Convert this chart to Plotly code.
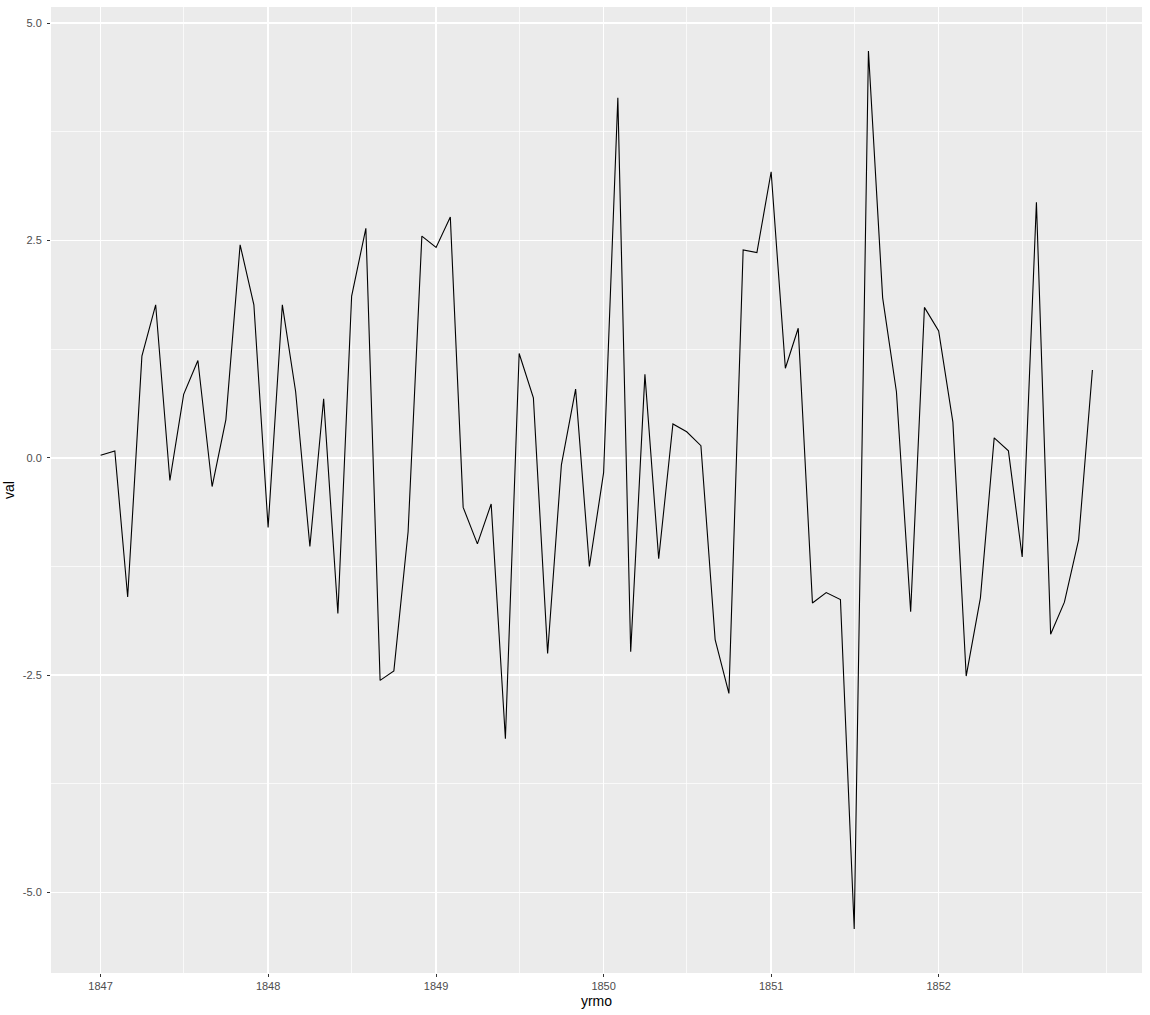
import pandas as pd
import plotly.graph_objects as go

# monthly dates Jan 1847 .. Dec 1852
start_month = "1847-01-01"
n_months = 72
yrmo = pd.date_range(start_month, periods=n_months, freq="MS")

val = [
    0.03, 0.08, -1.60, 1.17, 1.76, -0.26, 0.73, 1.12, -0.33, 0.44, 2.45, 1.76,
    -0.80, 1.76, 0.76, -1.02, 0.68, -1.79, 1.86, 2.64, -2.56, -2.45, -0.85, 2.55,
    2.42, 2.77, -0.57, -0.99, -0.53, -3.23, 1.20, 0.69, -2.25, -0.08, 0.79, -1.25,
    -0.17, 4.14, -2.23, 0.96, -1.16, 0.39, 0.30, 0.14, -2.09, -2.71, 2.39, 2.36,
    3.29, 1.03, 1.49, -1.67, -1.55, -1.63, -5.42, 4.68, 1.84, 0.76, -1.77, 1.73,
    1.46, 0.41, -2.51, -1.61, 0.23, 0.08, -1.14, 2.94, -2.03, -1.66, -0.94, 1.01,
]

year_ticks = ["1847", "1848", "1849", "1850", "1851", "1852"]
y_ticks = [-5.0, -2.5, 0.0, 2.5, 5.0]

# ggplot-like 5% expansion
span = yrmo[-1] - yrmo[0]
x_range = [yrmo[0] - 0.05 * span, yrmo[-1] + 0.05 * span]
vmin, vmax = min(val), max(val)
vspan = vmax - vmin
y_range = [vmin - 0.05 * vspan, vmax + 0.05 * vspan]

fig = go.Figure()
fig.add_trace(go.Scatter(
    x=yrmo, y=val, mode="lines",
    line=dict(color="black", width=1.1),
    hoverinfo="skip", showlegend=False,
))

tick_font = dict(family="Liberation Sans, Arial, sans-serif", size=11, color="#4D4D4D")
title_font = dict(family="Liberation Sans, Arial, sans-serif", size=14, color="black")

fig.update_layout(
    width=1150, height=1015,
    margin=dict(l=51, r=8, t=7, b=42),
    paper_bgcolor="white",
    plot_bgcolor="#EBEBEB",
    showlegend=False,
)

fig.update_xaxes(
    type="date",
    range=x_range,
    tickmode="array",
    tickvals=[pd.Timestamp(f"{y}-01-01") for y in year_ticks],
    ticktext=year_ticks,
    showgrid=True, gridcolor="white", gridwidth=1.5,
    zeroline=False, showline=False,
    ticks="outside", ticklen=3, tickwidth=1, tickcolor="#333333",
    tickfont=tick_font,
    minor=dict(dtick="M6", tick0=start_month, showgrid=True,
               gridcolor="white", gridwidth=0.7, ticks=""),
    title=dict(text="yrmo", font=title_font, standoff=4),
    automargin=False,
)

fig.update_yaxes(
    range=y_range,
    tickmode="array",
    tickvals=y_ticks,
    ticktext=[f"{v:.1f}" for v in y_ticks],
    showgrid=True, gridcolor="white", gridwidth=1.5,
    zeroline=False, showline=False,
    ticks="outside", ticklen=3, tickwidth=1, tickcolor="#333333",
    tickfont=tick_font,
    ticklabelstandoff=3,
    minor=dict(dtick=1.25, tick0=0, showgrid=True,
               gridcolor="white", gridwidth=0.7, ticks=""),
    title=dict(text="val", font=title_font, standoff=4),
    automargin=False,
)

fig.write_html(
    "out.html",
    config={"displayModeBar": False, "staticPlot": True},
    post_script="document.body.style.margin='0';document.body.style.overflow='hidden';",
)
